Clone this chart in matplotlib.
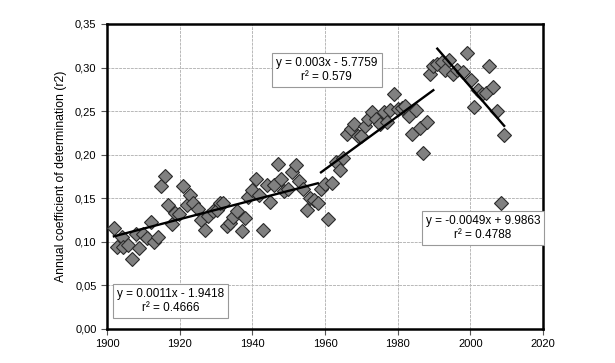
import numpy as np
import matplotlib.pyplot as plt

plt.rcParams['font.family'] = ['Liberation Sans', 'DejaVu Sans']

# values (year, annual r2)
years = [1901.9, 1902.8, 1904.0, 1904.5, 1905.7, 1907.0, 1907.9, 1908.9, 1909.8, 1910.9,
         1912.0, 1912.9, 1914.0, 1914.9, 1916.0, 1916.9, 1918.0, 1918.7, 1919.8, 1920.8,
         1921.9, 1922.8, 1923.8, 1925.0, 1925.9, 1927.0, 1927.9, 1929.3, 1930.4, 1931.1,
         1932.0, 1932.9, 1933.9, 1934.8, 1935.7, 1937.1, 1938.0, 1938.9, 1939.8, 1940.9,
         1941.8, 1943.0, 1943.9, 1944.9, 1946.0, 1947.0, 1947.9, 1948.8, 1949.9, 1950.8,
         1951.9, 1952.9, 1954.0, 1955.0, 1955.9, 1957.1, 1958.0,
         1958.9, 1960.0, 1960.9, 1962.0, 1963.0, 1964.1, 1965.0, 1966.1, 1967.1, 1968.1,
         1969.0, 1969.9, 1971.0, 1971.9, 1973.0, 1974.0, 1975.0, 1976.1, 1977.0, 1977.9,
         1979.0, 1980.0, 1981.1, 1982.0, 1983.1, 1984.0, 1985.0, 1986.2, 1987.1, 1988.0,
         1988.9, 1989.8,
         1990.9, 1992.1, 1993.1, 1994.2, 1995.2, 1996.4, 1997.9, 1999.2, 2000.1, 2001.1,
         2002.2, 2003.1, 2004.3, 2005.0, 2006.3, 2007.3, 2008.4, 2009.3]
r2 = [0.116, 0.094, 0.105, 0.094, 0.096, 0.080, 0.109, 0.093, 0.109, 0.104,
      0.123, 0.100, 0.106, 0.164, 0.176, 0.142, 0.120, 0.133, 0.132, 0.164,
      0.142, 0.154, 0.144, 0.138, 0.125, 0.114, 0.129, 0.135, 0.136, 0.144,
      0.144, 0.118, 0.121, 0.128, 0.135, 0.112, 0.127, 0.151, 0.159, 0.172,
      0.154, 0.114, 0.165, 0.146, 0.165, 0.189, 0.172, 0.158, 0.161, 0.180,
      0.188, 0.170, 0.160, 0.136, 0.150, 0.148, 0.145,
      0.161, 0.166, 0.126, 0.167, 0.192, 0.182, 0.196, 0.224, 0.230, 0.235,
      0.221, 0.221, 0.233, 0.241, 0.249, 0.241, 0.235, 0.249, 0.238, 0.251,
      0.270, 0.252, 0.254, 0.256, 0.244, 0.224, 0.251, 0.231, 0.202, 0.237,
      0.293, 0.302,
      0.304, 0.306, 0.297, 0.309, 0.293, 0.297, 0.295, 0.317, 0.286, 0.255,
      0.274, 0.270, 0.271, 0.302, 0.278, 0.250, 0.145, 0.223]

# trend periods and their labels
periods = [(1900, 1958.5), (1958.5, 1990.3), (1990.3, 2010)]
labels = ['y = 0.0011x - 1.9418\nr\u00b2 = 0.4666',
          'y = 0.003x - 5.7759\nr\u00b2 = 0.579',
          'y = -0.0049x + 9.9863\nr\u00b2 = 0.4788']
label_pos = [(1917.5, 0.032), (1960.5, 0.297), (2003.5, 0.116)]

years = np.array(years)
r2 = np.array(r2)

fig = plt.figure(figsize=(6.15, 3.63), dpi=100)
ax = fig.add_axes([0.174, 0.094, 0.709, 0.840])

ax.plot(years, r2, 'D', ms=7, mfc='#808080', mec='#2a2a2a', mew=0.8, zorder=3)

for (a, b) in periods:
    m = (years >= a) & (years < b)
    p = np.polyfit(years[m], r2[m], 1)
    xx = np.array([years[m].min(), years[m].max()])
    ax.plot(xx, np.polyval(p, xx), color='black', lw=1.7, zorder=4)

for txt, (x, y) in zip(labels, label_pos):
    ax.text(x, y, txt, ha='center', va='center', fontsize=8.5, linespacing=1.25, zorder=5,
            bbox=dict(boxstyle='square,pad=0.35', fc='white', ec='#999999', lw=0.8))

ax.set_xlim(1900, 2020)
ax.set_ylim(0, 0.35)
ax.set_xticks(np.arange(1900, 2021, 20))
ax.set_yticks(np.arange(0, 0.351, 0.05))
ax.set_yticklabels([f'{v:.2f}'.replace('.', ',') for v in np.arange(0, 0.351, 0.05)])
ax.tick_params(labelsize=8, length=4, width=0.8, color='#555555')
ax.grid(True, color='#b8b8b8', lw=0.7, ls=(0, (3, 1)))
ax.set_axisbelow(True)
for s in ax.spines.values():
    s.set_linewidth(1.8)
    s.set_color('black')

ax.set_ylabel('Annual coefficient of determination (r2)', fontsize=8.8, labelpad=6)

fig.savefig('out.png', dpi=100)
